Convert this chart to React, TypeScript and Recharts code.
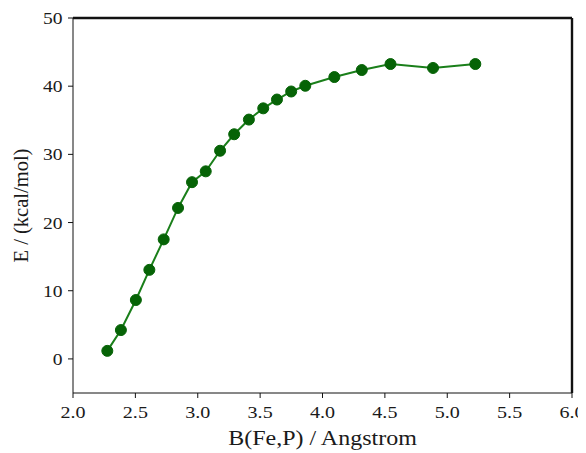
import React from "react";
import { LineChart, Line, XAxis, YAxis, ReferenceLine } from "recharts";

const bondLength = [2.275, 2.384, 2.504, 2.612, 2.727, 2.842, 2.954, 3.064, 3.179, 3.292, 3.41, 3.525, 3.635, 3.749, 3.862, 4.095, 4.315, 4.545, 4.886, 5.225];
const energy = [1.18, 4.23, 8.64, 13.06, 17.53, 22.14, 25.92, 27.51, 30.53, 32.95, 35.1, 36.75, 38.04, 39.22, 40.06, 41.34, 42.37, 43.25, 42.67, 43.25];
const xTicks = [2.0, 2.5, 3.0, 3.5, 4.0, 4.5, 5.0, 5.5, 6.0];
const yTicks = [0, 10, 20, 30, 40, 50];
const xLabel = "B(Fe,P) / Angstrom";
const yLabel = "E / (kcal/mol)";

const data = bondLength.map((x, i) => ({ x, y: energy[i] }));

const font = "Liberation Serif";
const ink = "#1a1a1a";

function XTick(props: any) {
  const { x, y, payload } = props;
  return (
    <g transform={`translate(${x},${y}) scale(1.18,1)`}>
      <text x={0} y={0} dy={16} textAnchor="middle" fill={ink} fontSize={17} fontFamily={font}>
        {Number(payload.value).toFixed(1)}
      </text>
    </g>
  );
}

function YTick(props: any) {
  const { x, y, payload } = props;
  return (
    <g transform={`translate(${x},${y}) scale(1.15,1)`}>
      <text x={0} y={0} dy={6} textAnchor="end" fill={ink} fontSize={17} fontFamily={font}>
        {payload.value}
      </text>
    </g>
  );
}

function XLabel(props: any) {
  const vb = props.viewBox || { x: 65, y: 385, width: 499, height: 50 };
  const cx = vb.x + vb.width / 2;
  const by = vb.y + 51.5;
  return (
    <g transform={`translate(${cx},${by}) scale(1.2,1)`}>
      <text x={0} y={0} textAnchor="middle" fill={ink} fontSize={20} fontFamily={font}>
        {xLabel}
      </text>
    </g>
  );
}

function YLabel(props: any) {
  const vb = props.viewBox || { x: 0, y: 10, width: 65, height: 375 };
  const cy = vb.y + vb.height / 2;
  const bx = vb.x + 19.7;
  return (
    <g transform={`translate(${bx},${cy}) rotate(-90)`}>
      <text x={0} y={0} textAnchor="middle" fill={ink} fontSize={20.5} fontFamily={font}>
        {yLabel}
      </text>
    </g>
  );
}

export default function App() {
  return (
    <div style={{ width: 578, height: 445, background: "#fff" }}>
      <LineChart width={578} height={445} data={data} margin={{ top: 10, right: 14, bottom: 10, left: 0 }} style={{ overflow: "visible" }}>
        <XAxis
          dataKey="x"
          type="number"
          domain={[2, 6]}
          ticks={xTicks}
          height={50}
          stroke="#111"
          tickSize={5}
          tickMargin={4}
          tick={<XTick />}
          label={<XLabel />}
        />
        <YAxis
          dataKey="y"
          type="number"
          domain={[-5, 50]}
          ticks={yTicks}
          width={65}
          stroke="#111"
          tickSize={5}
          tickMargin={5.5}
          tick={<YTick />}
          label={<YLabel />}
        />
        <ReferenceLine y={50} stroke="#111" strokeWidth={2.4} ifOverflow="extendDomain" />
        <ReferenceLine x={6} stroke="#111" strokeWidth={2.4} ifOverflow="extendDomain" />
        <Line
          dataKey="y"
          stroke="#1a7f1a"
          strokeWidth={2}
          isAnimationActive={false}
          dot={{ r: 5.5, fill: "#066306", stroke: "#066306", strokeWidth: 1 }}
        />
      </LineChart>
    </div>
  );
}
